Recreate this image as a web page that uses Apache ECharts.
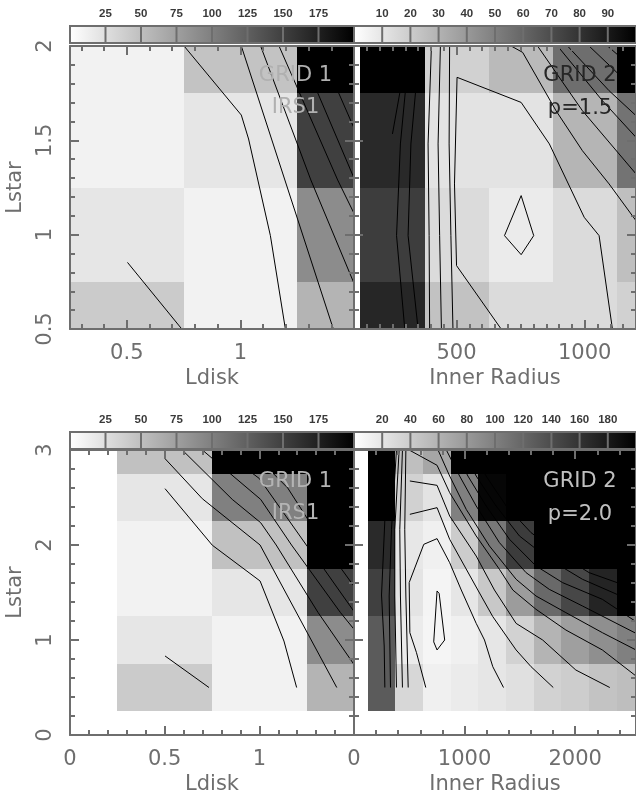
<!DOCTYPE html>
<html>
<head>
<meta charset="utf-8">
<script src="https://cdn.jsdelivr.net/npm/echarts@6/dist/echarts.min.js"></script>
<style>
  html, body { margin: 0; padding: 0; background: #ffffff; }
  #chart { width: 636px; height: 800px; }
</style>
</head>
<body>
<div id="chart"></div>
<script>
// ---------------------------------------------------------------------------
// Model grids: cell centres and mapped values (grey scale), contour polylines
// ---------------------------------------------------------------------------

// GRID 1 / IRS1, upper panel (Lstar 0.5 - 2)
const ldiskIrs1 = [0.5, 1.0, 1.5];
const lstarUpper = [2.0, 1.5, 1.0, 0.5];
const irs1UpperValues = [
  [10, 47, 200],
  [10, 20, 150],
  [20, 10, 90],
  [41, 10, 59]
];

// GRID 2, p = 1.5 (Lstar 0.5 - 2)
const radiusP15 = [250, 500, 750, 1000, 1250];
const p15Values = [
  [100, 18, 27, 57, 100],
  [84, 11, 11, 29, 55],
  [76, 14, 8, 14, 25],
  [85, 24, 14, 14, 18]
];

// GRID 1 / IRS1, lower panel (Lstar 0.5 - 3)
const lstarLower = [3.0, 2.5, 2.0, 1.5, 1.0, 0.5];
const irs1LowerValues = [
  [49, 200, 200],
  [20, 100, 200],
  [10, 49, 200],
  [10, 20, 150],
  [20, 10, 90],
  [41, 10, 59]
];

// GRID 2, p = 2.0 (Lstar 0.5 - 3)
const radiusP20 = [250, 500, 750, 1000, 1250, 1500, 1750, 2000, 2250, 2500];
const p20Values = [
  [200, 50, 70, 200, 200, 200, 200, 200, 200, 200],
  [200, 36, 22, 100, 195, 200, 200, 200, 200, 200],
  [167, 19, 12, 40, 106, 153, 200, 200, 200, 200],
  [150, 21, 9, 20, 43, 78, 118, 144, 172, 200],
  [129, 16, 8, 12, 20, 35, 59, 75, 88, 100],
  [129, 31, 12, 16, 20, 24, 35, 39, 47, 51]
];

// Contour polylines, [x, Lstar] vertices
const irs1UpperContours = [
  [[0.503, 0.853], [0.742, 0.5]],
  [[0.752, 2.0], [1.004, 1.634], [1.036, 1.507], [1.132, 0.995], [1.198, 0.5]],
  [[1.004, 2.0], [1.409, 0.5]],
  [[1.089, 2.0], [1.31, 1.29], [1.5, 0.742]],
  [[1.17, 2.0], [1.428, 1.29], [1.5, 1.113]],
  [[1.248, 2.0], [1.338, 1.758], [1.5, 1.30]],
  [[1.343, 2.0], [1.43, 1.758], [1.5, 1.565]]
];

const p15Contours = [
  [[279, 1.754], [250, 1.534]],
  [[317, 2.0], [281, 1.481], [266, 0.995], [298, 0.5]],
  [[356, 2.0], [322, 1.481], [311, 0.995], [350, 0.5]],
  [[402, 2.0], [389, 1.481], [393, 0.995], [395, 0.5]],
  [[437, 2.0], [428, 1.481], [434, 0.995], [441, 0.5]],
  [[473, 2.0], [471, 1.481], [478, 0.995], [486, 0.5]],
  [[674, 0.5], [500, 0.836], [492, 1.269], [502, 1.834], [752, 1.701], [862, 1.481], [998, 1.092], [1056, 0.995], [1108, 0.5]],
  [[752, 1.207], [801, 0.995], [752, 0.894], [687, 0.995], [752, 1.207]],
  [[713, 2.0], [758, 1.966], [888, 1.657], [991, 1.445], [1095, 1.269], [1200, 1.074]],
  [[816, 2.0], [991, 1.657], [1200, 1.322]],
  [[894, 2.0], [1069, 1.71], [1200, 1.516]],
  [[933, 2.0], [1095, 1.763], [1200, 1.631]],
  [[1017, 2.0], [1200, 1.763]],
  [[1089, 2.0], [1200, 1.869]]
];

const irs1LowerContours = [
  [[0.502, 0.832], [0.734, 0.5]],
  [[0.502, 2.593], [0.752, 1.997], [1.004, 1.621], [1.13, 0.989], [1.197, 0.5]],
  [[0.502, 2.909], [0.699, 2.487], [1.004, 2.0], [1.409, 0.5]],
  [[0.593, 3.0], [0.857, 2.48], [1.007, 2.235], [1.089, 2.0], [1.31, 1.29], [1.5, 0.742]],
  [[0.699, 3.0], [1.007, 2.48], [1.17, 2.0], [1.428, 1.29], [1.5, 1.113]],
  [[0.80, 3.0], [1.0, 2.7], [1.248, 2.0], [1.338, 1.758], [1.5, 1.30]],
  [[0.95, 3.0], [1.15, 2.6], [1.343, 2.0], [1.43, 1.758], [1.5, 1.565]]
];

const p20Contours = [
  [[369, 3.0], [279, 2.263], [249, 1.474], [273, 0.937], [279, 0.5]],
  [[384, 3.0], [339, 2.165], [318, 1.463], [330, 0.5]],
  [[408, 3.0], [369, 2.165], [369, 1.463], [384, 0.5]],
  [[438, 3.0], [414, 2.165], [420, 1.463], [438, 0.5]],
  [[469, 3.0], [459, 2.165], [469, 1.463], [490, 0.5]],
  [[649, 0.5], [565, 0.867], [505, 1.077], [499, 1.604], [631, 2.007], [751, 2.067], [865, 1.814], [970, 1.526], [1105, 1.175], [1180, 1.0], [1255, 0.719], [1352, 0.5]],
  [[505, 2.323], [751, 2.393], [865, 2.06], [1120, 1.526], [1255, 1.246], [1466, 0.895], [1601, 0.719], [1802, 0.5]],
  [[505, 2.674], [751, 2.628], [865, 2.305], [1105, 1.884], [1270, 1.526], [1466, 1.175], [1706, 1.0], [2006, 0.684], [2313, 0.5]],
  [[499, 3.0], [751, 2.839], [865, 2.551], [1105, 2.095], [1315, 1.744], [1436, 1.526], [1646, 1.323], [1916, 1.105], [2246, 0.895], [2550, 0.621]],
  [[760, 3.0], [865, 2.726], [1015, 2.375], [1225, 1.989], [1466, 1.639], [1646, 1.463], [1916, 1.288], [2246, 1.077], [2550, 0.895]],
  [[835, 3.0], [955, 2.726], [1105, 2.411], [1315, 2.025], [1556, 1.709], [1766, 1.533], [2066, 1.358], [2550, 1.07]],
  [[910, 3.0], [1030, 2.726], [1195, 2.411], [1406, 2.06], [1646, 1.779], [1886, 1.604], [2246, 1.428], [2550, 1.193]],
  [[985, 3.0], [1105, 2.726], [1285, 2.411], [1496, 2.095], [1766, 1.849], [2066, 1.639], [2550, 1.393]],
  [[1060, 3.0], [1195, 2.726], [1376, 2.411], [1601, 2.13], [1886, 1.884], [2126, 1.709], [2550, 1.533]],
  [[751, 1.516], [770, 1.49], [820, 1.0], [751, 0.895], [721, 0.98], [751, 1.516]]
];

// Tick labels
const ldiskTicksUpper = [0.5, 1];
const ldiskTicksLower = [0, 0.5, 1];
const radiusTicksP15 = [500, 1000];
const radiusTicksP20 = [0, 1000, 2000];
const lstarTicksUpper = [0.5, 1, 1.5, 2];
const lstarTicksLower = [0, 1, 2, 3];

// Colour bar ranges and labels
const colorbarIrs1Max = 200;
const colorbarIrs1Ticks = [25, 50, 75, 100, 125, 150, 175];
const colorbarP15Max = 100;
const colorbarP15Ticks = [10, 20, 30, 40, 50, 60, 70, 80, 90];
const colorbarP20Max = 200;
const colorbarP20Ticks = [20, 40, 60, 80, 100, 120, 140, 160, 180];

// ---------------------------------------------------------------------------
// Styling helpers
// ---------------------------------------------------------------------------
const AXIS_GRAY = '#6e6e6e';
const FONT = '"DejaVu Sans", sans-serif';
const BAR_FONT = '"Liberation Sans", sans-serif';

function minorValues(min, max, step, majors) {
  const out = [];
  const start = Math.ceil(min / step - 1e-9);
  for (let k = start; k * step <= max + 1e-9; k++) {
    const v = +(k * step).toFixed(6);
    if (!majors.some(m => Math.abs(m - v) < 1e-9)) out.push(v);
  }
  return out;
}

// Four axes per direction: labelled side (major + minor ticks) and mirrored side.
function axesFor(dim, gridIndex, spec) {
  const sides = dim === 'x' ? ['bottom', 'top'] : ['left', 'right'];
  const minors = minorValues(spec.min, spec.max, spec.minorStep, spec.majors);
  const tickStyle = { color: AXIS_GRAY, width: 2 };
  const make = (position, ticks, len, withLine, withLabel) => {
    const ax = {
      gridIndex, type: 'value', min: spec.min, max: spec.max, position, z: 10,
      splitLine: { show: false },
      axisLine: { show: withLine, onZero: false, lineStyle: { color: AXIS_GRAY, width: 2 } },
      axisTick: { show: true, inside: true, length: len, customValues: ticks, lineStyle: tickStyle },
      axisLabel: { show: false }
    };
    if (withLabel) {
      ax.axisLabel = {
        show: true, customValues: spec.labels, formatter: v => String(v),
        margin: 14, fontSize: 21, fontFamily: FONT, color: AXIS_GRAY,
        rotate: dim === 'y' ? 90 : 0
      };
      if (spec.name) {
        ax.name = spec.name;
        ax.nameLocation = 'middle';
        ax.nameGap = dim === 'x' ? 39 : 44;
        ax.nameTextStyle = { fontSize: 21, fontFamily: FONT, color: AXIS_GRAY };
      }
    }
    return ax;
  };
  return [
    make(sides[0], spec.majors, 9, true, !!spec.labels),
    make(sides[0], minors, 5, false, false),
    make(sides[1], spec.majors, 9, true, false),
    make(sides[1], minors, 5, false, false)
  ];
}

function cellRenderer(dx, dy) {
  return function (params, api) {
    const x = api.value(0), y = api.value(1);
    const p0 = api.coord([x - dx / 2, y + dy / 2]);
    const p1 = api.coord([x + dx / 2, y - dy / 2]);
    const x0 = Math.round(p0[0]), y0 = Math.round(p0[1]);
    const x1 = Math.round(p1[0]), y1 = Math.round(p1[1]);
    const cs = params.coordSys;
    const shape = echarts.graphic.clipRectByRect(
      { x: x0, y: y0, width: x1 - x0, height: y1 - y0 },
      { x: cs.x, y: cs.y, width: cs.width, height: cs.height }
    );
    if (!shape) return null;
    return { type: 'rect', shape, style: { fill: api.visual('color') } };
  };
}

function cellSeries(axisIndex, xs, ys, values) {
  const data = [];
  ys.forEach((y, i) => xs.forEach((x, j) => data.push([x, y, values[i][j]])));
  const dx = Math.abs(xs[1] - xs[0]);
  const dy = Math.abs(ys[1] - ys[0]);
  return {
    type: 'custom', xAxisIndex: axisIndex, yAxisIndex: axisIndex,
    data, encode: { x: 0, y: 1 }, renderItem: cellRenderer(dx, dy),
    z: 1, silent: true, animation: false
  };
}

function contourSeries(axisIndex, lines) {
  return lines.map(pts => ({
    type: 'line', xAxisIndex: axisIndex, yAxisIndex: axisIndex, data: pts,
    symbol: 'none', showSymbol: false, clip: true,
    lineStyle: { color: '#000000', width: 1 }, z: 3, silent: true, animation: false
  }));
}

function colorbarSeries(axisIndex, ticks) {
  return {
    type: 'custom', xAxisIndex: axisIndex, yAxisIndex: axisIndex,
    data: [[0, 0.5]], encode: { x: 0, y: 1 }, silent: true, animation: false, z: 2,
    renderItem(params, api) {
      const cs = params.coordSys;
      const children = [{
        type: 'rect',
        shape: { x: cs.x, y: cs.y, width: cs.width, height: cs.height },
        style: {
          fill: new echarts.graphic.LinearGradient(0, 0, 1, 0, [
            { offset: 0, color: '#ffffff' }, { offset: 1, color: '#000000' }
          ])
        }
      }];
      ticks.forEach(t => {
        const p = api.coord([t, 0.5]);
        children.push({
          type: 'line',
          shape: { x1: p[0], y1: cs.y, x2: p[0], y2: cs.y + cs.height },
          style: { stroke: AXIS_GRAY, lineWidth: 2 }
        });
      });
      children.push({
        type: 'rect',
        shape: { x: cs.x, y: cs.y, width: cs.width, height: cs.height },
        style: { fill: null, stroke: AXIS_GRAY, lineWidth: 2 }
      });
      return { type: 'group', children };
    }
  };
}

function colorbarAxes(gridIndex, max, ticks) {
  return {
    x: {
      gridIndex, type: 'value', min: 0, max, position: 'top',
      axisLine: { show: false }, axisTick: { show: false }, splitLine: { show: false },
      axisLabel: {
        customValues: ticks, formatter: v => String(v), margin: 6,
        fontSize: 11.5, fontWeight: 'bold', fontFamily: BAR_FONT, color: '#3a3a3a'
      }
    },
    y: { gridIndex, type: 'value', min: 0, max: 1, show: false }
  };
}

// ---------------------------------------------------------------------------
// Layout: four panels plus a colour bar above each one
// ---------------------------------------------------------------------------
const grids = [
  { left: 70, top: 46, width: 284, height: 283 },
  { left: 354, top: 46, width: 283, height: 283 },
  { left: 70, top: 450, width: 284, height: 285 },
  { left: 354, top: 450, width: 283, height: 285 },
  { left: 70, top: 26, width: 284, height: 17 },
  { left: 354, top: 26, width: 283, height: 17 },
  { left: 70, top: 432, width: 284, height: 17 },
  { left: 354, top: 432, width: 283, height: 17 }
];

const panelSpecs = [
  {
    x: { min: 0.25, max: 1.5, majors: ldiskTicksUpper, labels: ldiskTicksUpper, minorStep: 0.1, name: 'Ldisk' },
    y: { min: 0.5, max: 2, majors: lstarTicksUpper, labels: lstarTicksUpper, minorStep: 0.1, name: 'Lstar' }
  },
  {
    x: { min: 100, max: 1200, majors: radiusTicksP15, labels: radiusTicksP15, minorStep: 50, name: 'Inner Radius' },
    y: { min: 0.5, max: 2, majors: lstarTicksUpper, labels: null, minorStep: 0.1 }
  },
  {
    x: { min: 0, max: 1.5, majors: ldiskTicksLower, labels: ldiskTicksLower, minorStep: 0.1, name: 'Ldisk' },
    y: { min: 0, max: 3, majors: lstarTicksLower, labels: lstarTicksLower, minorStep: 0.2, name: 'Lstar' }
  },
  {
    x: { min: 0, max: 2550, majors: radiusTicksP20, labels: radiusTicksP20, minorStep: 200, name: 'Inner Radius' },
    y: { min: 0, max: 3, majors: lstarTicksLower, labels: null, minorStep: 0.2 }
  }
];

const xAxis = [];
const yAxis = [];
panelSpecs.forEach((spec, g) => {
  xAxis.push(...axesFor('x', g, spec.x));
  yAxis.push(...axesFor('y', g, spec.y));
});
const bars = [
  colorbarAxes(4, colorbarIrs1Max, colorbarIrs1Ticks),
  colorbarAxes(5, colorbarP15Max, colorbarP15Ticks),
  colorbarAxes(6, colorbarIrs1Max, colorbarIrs1Ticks),
  colorbarAxes(7, colorbarP20Max, colorbarP20Ticks)
];
bars.forEach(b => { xAxis.push(b.x); yAxis.push(b.y); });

// Primary axis index of each panel (the labelled bottom/left pair)
const ax = [0, 4, 8, 12];
const barAx = [16, 17, 18, 19];

const series = [
  cellSeries(ax[0], ldiskIrs1, lstarUpper, irs1UpperValues),
  cellSeries(ax[1], radiusP15, lstarUpper, p15Values),
  cellSeries(ax[2], ldiskIrs1, lstarLower, irs1LowerValues),
  cellSeries(ax[3], radiusP20, lstarLower, p20Values),
  colorbarSeries(barAx[0], colorbarIrs1Ticks),
  colorbarSeries(barAx[1], colorbarP15Ticks),
  colorbarSeries(barAx[2], colorbarIrs1Ticks),
  colorbarSeries(barAx[3], colorbarP20Ticks),
  ...contourSeries(ax[0], irs1UpperContours),
  ...contourSeries(ax[1], p15Contours),
  ...contourSeries(ax[2], irs1LowerContours),
  ...contourSeries(ax[3], p20Contours)
];

const grey = { type: 'continuous', dimension: 2, show: false, inRange: { color: ['#ffffff', '#000000'] } };
const visualMap = [
  Object.assign({}, grey, { seriesIndex: 0, min: 0, max: colorbarIrs1Max }),
  Object.assign({}, grey, { seriesIndex: 1, min: 0, max: colorbarP15Max }),
  Object.assign({}, grey, { seriesIndex: 2, min: 0, max: colorbarIrs1Max }),
  Object.assign({}, grey, { seriesIndex: 3, min: 0, max: colorbarP20Max })
];

function label(text, x, y, color) {
  return {
    type: 'text', x, y, z: 100, silent: true,
    style: { text, fill: color, fontSize: 21, fontFamily: FONT, align: 'center', verticalAlign: 'middle' }
  };
}

const graphic = [
  label('GRID 1', 295.5, 76, '#b0b0b0'),
  label('IRS1', 295.5, 107.5, '#b0b0b0'),
  label('GRID 2', 580, 76, '#262626'),
  label('p=1.5', 580, 109, '#262626'),
  label('GRID 1', 295.5, 482, '#b4b4b4'),
  label('IRS1', 295.5, 513.5, '#b4b4b4'),
  label('GRID 2', 580, 482, '#c0c0c0'),
  label('p=2.0', 580, 515, '#c0c0c0')
];

const chart = echarts.init(document.getElementById('chart'), null, { renderer: 'canvas' });
chart.setOption({
  animation: false,
  backgroundColor: '#ffffff',
  textStyle: { fontFamily: FONT },
  grid: grids,
  xAxis,
  yAxis,
  visualMap,
  series,
  graphic
});
</script>
</body>
</html>
